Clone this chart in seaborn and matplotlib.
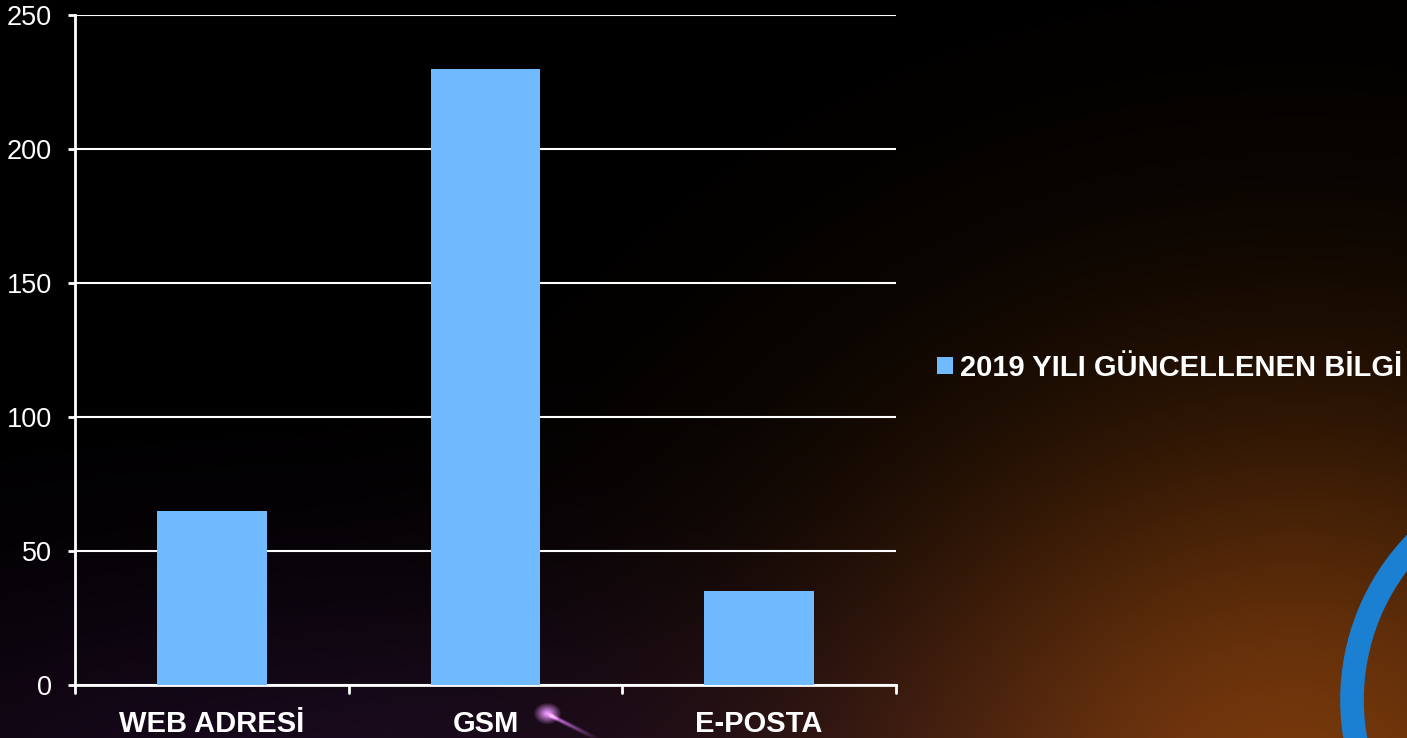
import numpy as np
import matplotlib
matplotlib.use("Agg")
import matplotlib.pyplot as plt
from matplotlib.patches import Arc
import seaborn as sns

categories = ["WEB ADRESİ", "GSM", "E-POSTA"]
values = [65, 230, 35]
series_name = "2019 YILI GÜNCELLENEN BİLGİ"
yticks = [0, 50, 100, 150, 200, 250]

sns.set_theme(style="dark")
plt.rcParams['font.family'] = ['Liberation Sans', 'DejaVu Sans']

W, H = 1407, 738
fig = plt.figure(figsize=(W / 100, H / 100), dpi=100, facecolor="black")

# background gradient (decoration)
bg = fig.add_axes([0, 0, 1, 1], zorder=-10)
yy, xx = np.mgrid[0:H, 0:W]
img = np.zeros((H, W, 3))
d = ((xx - 1300) / 450.0) ** 2 + ((yy - 800) / 400.0) ** 2
img += np.exp(-d)[..., None] * np.array([0.46, 0.22, 0.04])
d2 = ((xx - 350) / 600.0) ** 2 + ((yy - 800) / 220.0) ** 2
img += np.exp(-d2)[..., None] * np.array([0.10, 0.04, 0.12])
d3 = np.sqrt(((xx - 547) / 14.0) ** 2 + ((yy - 713) / 11.0) ** 2)
img += np.clip(1 - d3, 0, 1)[..., None] * np.array([0.9, 0.6, 1.0])
for k in range(40):
    px, py = 550 + k * 1.2, 715 + k * 0.6
    dd = np.sqrt(((xx - px) / 3.0) ** 2 + ((yy - py) / 3.0) ** 2)
    img += np.clip(1 - dd, 0, 1)[..., None] * np.array([0.35, 0.2, 0.4]) * (1 - k / 40)
img = np.clip(img, 0, 1)
bg.imshow(img, extent=[0, W, H, 0], aspect="auto")
bg.add_patch(Arc((1578, 700), 452, 452, angle=0, theta1=160, theta2=250,
                 color="#1b80d2", lw=17))
bg.set_xlim(0, W)
bg.set_ylim(H, 0)
bg.axis("off")

ax = fig.add_axes([75 / W, (H - 685) / H, (896 - 75) / W, (685 - 15) / H])
ax.set_facecolor("none")
sns.barplot(x=categories, y=values, color="#70bbff", width=0.4,
            saturation=1, label=series_name, ax=ax, zorder=3, linewidth=0)
ax.set_ylim(0, 250)
ax.set_xlim(-0.5, 2.5)
ax.set_yticks(yticks)
ax.set_yticklabels([str(t) for t in yticks], color="white", fontsize=19.5)
ax.set_xticks([0, 1, 2])
ax.set_xticklabels(categories, color="white", fontsize=21, fontweight="bold")
ax.tick_params(axis="x", length=0, pad=18)
ax.tick_params(axis="y", length=5, width=2, color="white", left=True, pad=11.5)
for b in [-0.5, 0.5, 1.5, 2.5]:
    ax.plot([b, b], [0, -3], color="white", lw=2, clip_on=False, zorder=4)
ax.grid(axis="y", color="white", lw=1.5, zorder=1)
ax.grid(axis="x", visible=False)
ax.set_axisbelow(True)
for s in ["top", "right"]:
    ax.spines[s].set_visible(False)
for s in ["left", "bottom"]:
    ax.spines[s].set_color("white")
    ax.spines[s].set_linewidth(2)
ax.set_xlabel("")
ax.set_ylabel("")

leg = ax.legend(loc="center left", bbox_to_anchor=(937 / W, (H - 368) / H),
                bbox_transform=fig.transFigure, frameon=False,
                prop={"weight": "bold", "size": 21}, handlelength=0.54,
                handleheight=0.54, handletextpad=0.24, borderaxespad=0,
                borderpad=0)
for t in leg.get_texts():
    t.set_color("white")

fig.savefig("out.png", dpi=100, facecolor="black")
